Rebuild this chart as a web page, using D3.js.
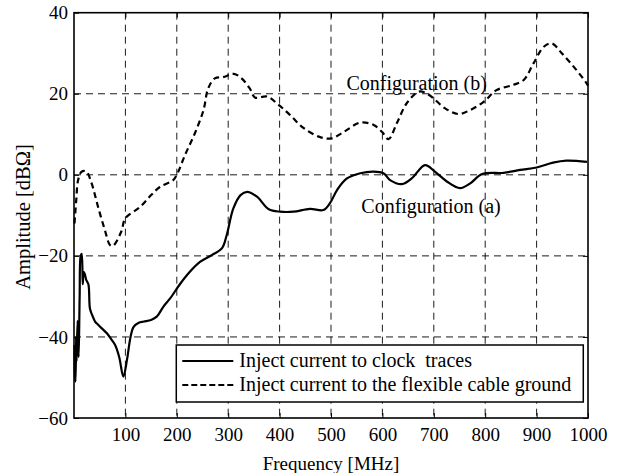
<!DOCTYPE html>
<html>
<head>
<meta charset="utf-8">
<script src="https://cdn.jsdelivr.net/npm/d3@7"></script>
<style>
  body { margin: 0; background: #fff; }
  svg text { font-family: "Liberation Serif", "Times New Roman", serif; fill: #000; }
</style>
</head>
<body>
<div id="chart"></div>
<script>
// tick values
var xTicks = [100, 200, 300, 400, 500, 600, 700, 800, 900, 1000];
var yTicks = [-60, -40, -20, 0, 20, 40];

// configuration (a): inject current to clock traces
var freqA = [1, 2, 3, 4, 5, 7, 9, 11, 13, 15, 17, 19, 21, 24, 28, 31, 35, 41, 47, 55, 64, 72, 80, 88, 96,
  103, 110, 116, 126, 136, 150, 161, 174, 187, 206, 225, 245, 268, 288, 297, 310, 324, 337, 356, 379,
  401, 427, 459, 485, 498, 512, 531, 557, 583, 602, 615, 638, 657, 683, 702, 726, 751, 771, 794, 836,
  868, 900, 932, 958, 998];
var ampA = [-42, -50, -51, -40, -46, -36, -45, -30, -20, -19.5, -27, -24, -24.5, -26, -27, -33, -34.5, -36.2, -37, -38, -39.1, -40.5, -42, -45, -49.8,
  -45.7, -40, -37.5, -36.5, -36.2, -35.8, -35, -32.5, -30.5, -27, -24, -21.5, -19.8, -18.1, -14.9, -8.3, -5, -4.2, -5.4, -8.5,
  -9.1, -9.1, -8.4, -8.7, -7, -3.7, -0.9, 0.4, 0.8, 0.4, -1.3, -2.3, -0.9, 2.4, 0.8, -1.7, -3.3, -2.1, 0.2, 0.5,
  1.2, 1.8, 3.0, 3.5, 3.2];

// configuration (b): inject current to the flexible cable ground
var freqB = [1, 4.5, 8, 15, 24, 34, 47, 60, 70, 76, 92, 100, 128, 150, 167, 193, 200, 216, 235, 252, 261, 274,
  290, 311, 326, 342, 352, 376, 395, 420, 447, 479, 501, 525, 557, 583, 600, 612, 628, 647, 670, 683, 699,
  722, 748, 771, 797, 822, 855, 875, 894, 914, 930, 949, 972, 995, 1000];
var ampB = [-12, -6, -1.3, 0.8, 0.8, -2, -8, -13.6, -17.3, -17.5, -14, -10.7, -8, -5, -3, -1.3, 0, 4.9, 10.2, 16, 21.3, 23.8,
  24.1, 24.9, 23.8, 21.3, 19.1, 19.3, 17.6, 14.8, 11.5, 9.3, 9.0, 10.6, 12.9, 12.3, 10.5, 8.8, 12.7, 17.6, 20.5, 20.3, 18.9,
  16.4, 15.0, 16.0, 18.0, 20.9, 22.2, 23.4, 27.5, 31.6, 32.4, 30.0, 26.7, 23.0, 22];

var legendLabels = ["Inject current to clock  traces", "Inject current to the flexible cable ground"];

// set the dimensions and margins of the graph
var W = 618, H = 473;
var margin = {top: 12.7, right: 30, bottom: 55, left: 74},
    width = 588 - margin.left,
    height = 418 - margin.top;

var x = d3.scaleLinear().domain([0, 1000]).range([0, width]);
var y = d3.scaleLinear().domain([-60, 40]).range([height, 0]);

var svg = d3.select("#chart").append("svg")
    .attr("width", W)
    .attr("height", H)
  .append("g")
    .attr("transform", "translate(" + margin.left + "," + margin.top + ")");

// grid lines
svg.append("g").selectAll("line")
    .data(xTicks.filter(function(d) { return d < 1000; }))
    .enter().append("line")
    .attr("x1", function(d) { return x(d); })
    .attr("x2", function(d) { return x(d); })
    .attr("y1", 0).attr("y2", height)
    .style("stroke", "#000").style("stroke-width", 0.9)
    .style("stroke-dasharray", "7,5");

svg.append("g").selectAll("line")
    .data(yTicks.filter(function(d) { return d > -60 && d < 40; }))
    .enter().append("line")
    .attr("x1", 0).attr("x2", width)
    .attr("y1", function(d) { return y(d); })
    .attr("y2", function(d) { return y(d); })
    .style("stroke", "#000").style("stroke-width", 0.9)
    .style("stroke-dasharray", "7,5");

// curves
var line = d3.line()
    .x(function(d) { return x(d[0]); })
    .y(function(d) { return y(d[1]); })
    .curve(d3.curveCatmullRom);

svg.append("path")
    .datum(d3.zip(freqB, ampB))
    .attr("d", line)
    .style("fill", "none").style("stroke", "#000")
    .style("stroke-width", 2.2).style("stroke-dasharray", "6,4");

svg.append("path")
    .datum(d3.zip(freqA, ampA))
    .attr("d", line)
    .style("fill", "none").style("stroke", "#000")
    .style("stroke-width", 2.2);

// axes (inward ticks, matlab style)
function styleAxis(g) {
  g.select(".domain").remove();
  g.selectAll(".tick line").style("stroke", "#000").style("stroke-width", 1);
  g.selectAll("text").style("font-size", "19px").style("font-family", "Liberation Serif");
}

svg.append("g")
    .attr("transform", "translate(0," + height + ")")
    .call(d3.axisBottom(x).tickValues(xTicks).tickSize(-5).tickPadding(10).tickFormat(d3.format("d")))
    .call(styleAxis);

svg.append("g")
    .call(d3.axisTop(x).tickValues(xTicks).tickSize(-5).tickFormat(""))
    .call(styleAxis);

svg.append("g")
    .call(d3.axisLeft(y).tickValues(yTicks).tickSize(-5).tickPadding(6).tickFormat(d3.format("d")))
    .call(styleAxis);

svg.append("g")
    .attr("transform", "translate(" + width + ",0)")
    .call(d3.axisRight(y).tickValues(yTicks).tickSize(-5).tickFormat(""))
    .call(styleAxis);

// box
svg.append("rect")
    .attr("width", width).attr("height", height)
    .style("fill", "none").style("stroke", "#000").style("stroke-width", 1.6);

// annotations
svg.append("text")
    .attr("x", x(530)).attr("y", y(20) - 4)
    .style("font-size", "20px")
    .text("Configuration (b)");

svg.append("text")
    .attr("x", x(559)).attr("y", y(-9.3))
    .style("font-size", "20px")
    .text("Configuration (a)");

// legend
var legend = svg.append("g")
    .attr("transform", "translate(" + x(199) + "," + (345 - margin.top) + ")");

legend.append("rect")
    .attr("width", 407).attr("height", 57)
    .style("fill", "#fff").style("stroke", "#000").style("stroke-width", 1.5);

legend.selectAll(".lg-line")
    .data(legendLabels)
    .enter().append("line")
    .attr("x1", 6).attr("x2", 57)
    .attr("y1", function(d, i) { return 16 + i * 24; })
    .attr("y2", function(d, i) { return 16 + i * 24; })
    .style("stroke", "#000").style("stroke-width", 2)
    .style("stroke-dasharray", function(d, i) { return i ? "6,3" : null; });

legend.selectAll(".lg-text")
    .data(legendLabels)
    .enter().append("text")
    .attr("x", 63)
    .attr("y", function(d, i) { return 22 + i * 24; })
    .style("font-size", "20px")
    .style("white-space", "pre")
    .attr("xml:space", "preserve")
    .text(function(d) { return d; });

// axis labels
svg.append("text")
    .attr("x", width / 2)
    .attr("y", 470 - margin.top)
    .attr("text-anchor", "middle")
    .style("font-size", "19px")
    .text("Frequency [MHz]");

svg.append("text")
    .attr("transform", "rotate(-90)")
    .attr("x", -(217 - margin.top))
    .attr("y", 30 - margin.left)
    .attr("text-anchor", "middle")
    .style("font-size", "20.5px")
    .text("Amplitude [dBΩ]");
</script>
</body>
</html>
